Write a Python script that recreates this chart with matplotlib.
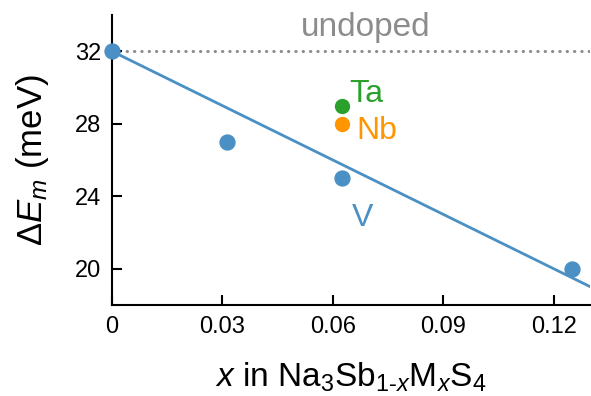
import matplotlib.pyplot as plt

plt.rcParams['font.family'] = ['Liberation Sans', 'DejaVu Sans']
plt.rcParams['mathtext.fontset'] = 'custom'
plt.rcParams['mathtext.rm'] = 'Liberation Sans'
plt.rcParams['mathtext.it'] = 'Liberation Sans:italic'

# data
v_x = [0, 0.03125, 0.0625, 0.125]
v_y = [32, 27, 25, 20]
ta_x, ta_y = [0.0625], [29]
nb_x, nb_y = [0.0625], [28]
fit_x = [0, 0.13]
fit_y = [32, 19]
undoped = 32
xticks = [0, 0.03, 0.06, 0.09, 0.12]
xticklabels = ['0', '0.03', '0.06', '0.09', '0.12']
yticks = [20, 24, 28, 32]

blue = '#4a90c4'
green = '#2ca02c'
orange = '#ff9500'
gray = '#8c8c8c'

fig = plt.figure(figsize=(5.91, 3.96), dpi=100)
ax = fig.add_axes([0.1895, 0.23, 0.8095, 0.732])

ax.axhline(undoped, color=gray, linestyle=(0, (0.1, 2.3)), linewidth=2.2,
           dash_capstyle='round', zorder=1)
ax.plot(fit_x, fit_y, color=blue, linewidth=2.0, zorder=2)
ax.scatter(v_x, v_y, s=115, color=blue, zorder=3, clip_on=False)
ax.scatter(ta_x, ta_y, s=100, color=green, zorder=3)
ax.scatter(nb_x, nb_y, s=100, color=orange, zorder=3)

ax.text(0.0513, 32.83, 'undoped', color=gray, fontsize=24, ha='left', va='baseline')
ax.text(0.0646, 29.18, 'Ta', color=green, fontsize=23, ha='left', va='baseline')
ax.text(0.0665, 27.14, 'Nb', color=orange, fontsize=23, ha='left', va='baseline')
ax.text(0.0682, 22.33, 'V', color=blue, fontsize=23, ha='center', va='baseline')

ax.set_xlim(0, 0.13)
ax.set_ylim(18, 34)
ax.set_xticks(xticks)
ax.set_xticklabels(xticklabels)
ax.set_yticks(yticks)
ax.tick_params(direction='in', length=7, width=1.5, labelsize=17, pad=8)
ax.spines['top'].set_visible(False)
ax.spines['right'].set_visible(False)
ax.spines['left'].set_linewidth(1.5)
ax.spines['bottom'].set_linewidth(1.5)

ax.set_xlabel(r'$x$ in Na$_3$Sb$_{1\text{-}x}$M$_x$S$_4$', fontsize=24, labelpad=16)
ax.set_ylabel(r'$\Delta E_m$ (meV)', fontsize=25, labelpad=17)

fig.savefig('out.png', dpi=100)
